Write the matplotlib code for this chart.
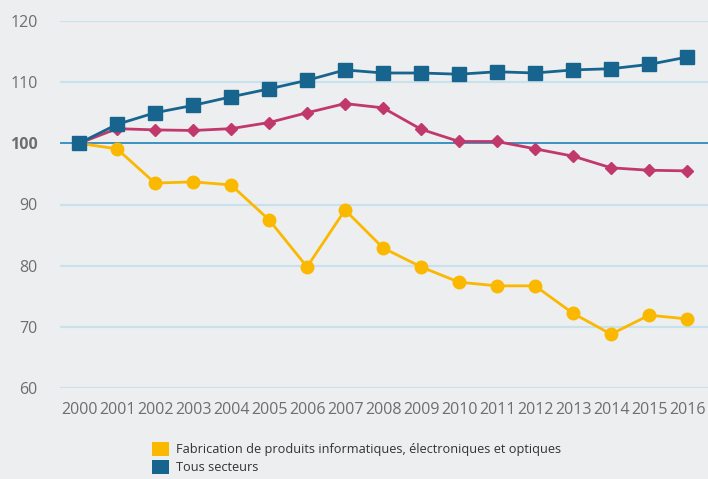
import matplotlib
matplotlib.use("Agg")
import matplotlib.pyplot as plt
from matplotlib.patches import Patch

years = list(range(2000, 2017))
fabrication = [100, 99.1, 93.5, 93.7, 93.2, 87.5, 79.8, 89.1, 82.9, 79.8, 77.3, 76.7, 76.7, 72.2, 68.8, 71.9, 71.3]
industrie = [100, 102.4, 102.2, 102.1, 102.4, 103.4, 105.0, 106.5, 105.8, 102.3, 100.3, 100.3, 99.1, 97.9, 96.0, 95.6, 95.5]
tous_secteurs = [100, 103.1, 105.0, 106.2, 107.6, 108.9, 110.3, 112.0, 111.5, 111.5, 111.3, 111.7, 111.5, 112.0, 112.2, 112.9, 114.1]
yticks = [60, 70, 80, 90, 100, 110, 120]

name_fab = "Fabrication de produits informatiques, électroniques et optiques"
name_ind = "Industrie manufacturière"
name_tous = "Tous secteurs"

c_yellow = "#fbb800"
c_mag = "#c1386b"
c_blue = "#17658f"
bg = "#eceef0"

plt.rcParams['font.family'] = ['Open Sans', 'DejaVu Sans']

fig = plt.figure(figsize=(7.08, 4.79), dpi=100, facecolor=bg)
ax = fig.add_axes([60/708, 1-388/479, 1-60/708, (388-21)/479])
ax.set_facecolor(bg)
for s in ax.spines.values():
    s.set_visible(False)

ax.set_xlim(1999.5, 2016.55)
ax.set_ylim(60, 120)

for y in yticks:
    if y == 100:
        ax.axhline(y, color="#2e8bbd", lw=1.3, zorder=1)
    else:
        ax.axhline(y, color="#c9e1ea", lw=1.5, zorder=1)

ax.plot(years, fabrication, color=c_yellow, lw=2.0, marker='o', ms=9, zorder=3, clip_on=False, label=name_fab)
ax.plot(years, industrie, color=c_mag, lw=2.0, marker='D', ms=6, zorder=4, clip_on=False, label=name_ind)
ax.plot(years, tous_secteurs, color=c_blue, lw=2.0, marker='s', ms=10, zorder=5, clip_on=False, label=name_tous)

ax.set_yticks(yticks)
ax.set_yticklabels([str(y) for y in yticks])
ax.set_xticks(years)
ax.set_xticklabels([str(y) for y in years])
ax.tick_params(axis='both', length=0, labelsize=11.5, labelcolor="#6e6e6e")
ax.tick_params(axis='y', pad=16)
ax.tick_params(axis='x', pad=10)
for lab in ax.get_yticklabels():
    if lab.get_text() == "100":
        lab.set_fontweight('bold')

handles = [Patch(facecolor=c_yellow, edgecolor='none', label=name_fab),
           Patch(facecolor=c_blue, edgecolor='none', label=name_tous)]
fig.legend(handles=handles, loc='upper left', bbox_to_anchor=(152/708, 1-442/479),
           frameon=False, fontsize=9.2, handlelength=1.33, handleheight=1.33,
           handletextpad=0.55, labelspacing=0.29, borderaxespad=0, borderpad=0,
           labelcolor="#333333")

fig.savefig("out.png", dpi=100, facecolor=bg)
